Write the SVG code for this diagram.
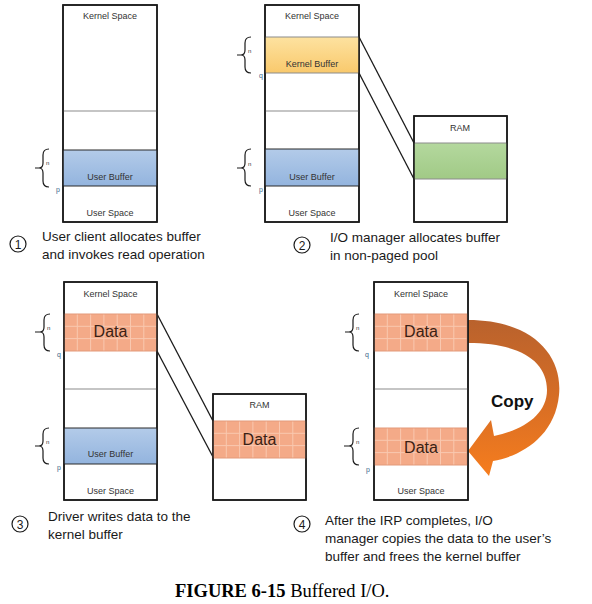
<svg xmlns="http://www.w3.org/2000/svg" width="592" height="604" viewBox="0 0 592 604">
<defs>
<style>
.box{fill:#fff;stroke:#1a1a1a;stroke-width:1.5}
.frame{fill:none;stroke:#1a1a1a;stroke-width:1.5}
.div{stroke:#8c8c8c;stroke-width:1.2}
.bandline{stroke:#2a2a2a;stroke-width:1.2}
.lbl{font-family:"Liberation Sans",Arial,sans-serif;font-size:9px;fill:#333;text-anchor:middle}
.data{font-family:"Liberation Sans",Arial,sans-serif;font-size:16px;fill:#3a1f14;text-anchor:middle}
.desc{font-family:"Liberation Sans",Arial,sans-serif;font-size:13.5px;fill:#1a1a1a}
.num{font-family:"Liberation Sans",Arial,sans-serif;font-size:12px;fill:#1a1a1a;text-anchor:middle}
.circ{fill:#fff;stroke:#1a1a1a;stroke-width:1.2}
.brace{fill:none;stroke:#1a1a1a;stroke-width:1.2}
.sub{font-family:"Liberation Sans",Arial,sans-serif;font-size:6px;fill:#333}
.pq{font-family:"Liberation Sans",Arial,sans-serif;font-size:7px;fill:#3b5f8a}
.conn{stroke:#1a1a1a;stroke-width:1.3;fill:none}
.copy{font-family:"Liberation Sans",Arial,sans-serif;font-size:17px;font-weight:bold;fill:#111}
.cap{font-family:"Liberation Serif","Times New Roman",serif;font-size:18.5px;fill:#000}
.gridl{stroke:#f9c8b0;stroke-width:1}
</style>
<linearGradient id="blue" x1="0" y1="0" x2="0" y2="1"><stop offset="0" stop-color="#b3cbe9"/><stop offset="1" stop-color="#93b4de"/></linearGradient>
<linearGradient id="yellow" x1="0" y1="0" x2="0" y2="1"><stop offset="0" stop-color="#fde2a0"/><stop offset="1" stop-color="#f9c96c"/></linearGradient>
<linearGradient id="green" x1="0" y1="0" x2="0" y2="1"><stop offset="0" stop-color="#b4d89e"/><stop offset="1" stop-color="#a1ca86"/></linearGradient>
<linearGradient id="copyg" gradientUnits="userSpaceOnUse" x1="0" y1="320" x2="0" y2="476"><stop offset="0" stop-color="#b9622d"/><stop offset="0.5" stop-color="#d66d25"/><stop offset="1" stop-color="#f67d1e"/></linearGradient>
<g id="grid">
<rect x="0" y="0" width="93" height="37" fill="#f4aa88"/>
<path class="gridl" d="M13.3,0V37M26.6,0V37M39.9,0V37M53.2,0V37M66.5,0V37M79.8,0V37M0,12.3H93M0,24.6H93"/>
<rect x="0" y="0" width="93" height="37" fill="none" stroke="#e39a7b" stroke-width="1"/>
</g>
</defs>
<rect width="592" height="604" fill="#fff"/>

<g id="connectors">
<line class="conn" x1="359" y1="37" x2="414" y2="143"/>
<line class="conn" x1="359" y1="73" x2="414" y2="179"/>
<line class="conn" x1="157" y1="314" x2="213" y2="421"/>
<line class="conn" x1="157" y1="351" x2="213" y2="457"/>
<path id="copy-arrow" d="M468,320 C532,320 563,355 559,395 C555,436 522,456 493,461 L489,476 L468,451 L491,420 L494,436 C524,430 547,414 547,390 C547,361 520,343 468,343 Z" fill="url(#copyg)"/>
</g>

<g id="p1-memory">
<rect class="box" x="63" y="5" width="94" height="217"/>
<line class="div" x1="63" y1="111" x2="157" y2="111"/>
<rect x="63" y="150" width="94" height="36" fill="url(#blue)"/>
<line class="bandline" x1="63" y1="150" x2="157" y2="150"/>
<line class="bandline" x1="63" y1="186" x2="157" y2="186"/>
<rect class="frame" x="63" y="5" width="94" height="217"/>
<text class="lbl" x="110" y="19">Kernel Space</text>
<text class="lbl" x="110" y="180">User Buffer</text>
<text class="lbl" x="110" y="216">User Space</text>
</g>
<g id="p1-brace">
<path class="brace" d="M49,149 Q43,149 43,155 V163 Q43,168 39,168 Q43,168 43,173 V181 Q43,187 49,187 M35,168 H40"/>
<text class="sub" x="46" y="165">n</text>
<text class="pq" x="56" y="192">p</text>
</g>
<g id="p1-caption">
<circle class="circ" cx="18" cy="244" r="8"/>
<text class="num" x="18" y="248.5">1</text>
<text class="desc" x="42" y="241">User client allocates buffer</text>
<text class="desc" x="42" y="259">and invokes read operation</text>
</g>

<g id="p2-memory">
<rect class="box" x="265" y="5" width="94" height="217"/>
<rect x="265" y="37" width="94" height="36" fill="url(#yellow)"/>
<line class="div" x1="265" y1="37" x2="359" y2="37"/>
<line class="div" x1="265" y1="73" x2="359" y2="73"/>
<line class="div" x1="265" y1="111" x2="359" y2="111"/>
<rect x="265" y="149" width="94" height="37" fill="url(#blue)"/>
<line class="bandline" x1="265" y1="149" x2="359" y2="149"/>
<line class="bandline" x1="265" y1="186" x2="359" y2="186"/>
<rect class="frame" x="265" y="5" width="94" height="217"/>
<text class="lbl" x="312" y="19">Kernel Space</text>
<text class="lbl" x="312" y="67">Kernel Buffer</text>
<text class="lbl" x="312" y="180">User Buffer</text>
<text class="lbl" x="312" y="216">User Space</text>
</g>
<g id="p2-braces">
<path class="brace" d="M251,37 Q245,37 245,43 V50 Q245,55 241,55 Q245,55 245,60 V67 Q245,73 251,73 M237,55 H242"/>
<text class="sub" x="248" y="53">n</text>
<text class="pq" x="259" y="78">q</text>
<path class="brace" d="M251,149 Q245,149 245,155 V163 Q245,168 241,168 Q245,168 245,173 V180 Q245,186 251,186 M237,168 H242"/>
<text class="sub" x="248" y="166">n</text>
<text class="pq" x="259" y="192">p</text>
</g>
<g id="p2-ram">
<rect class="box" x="414" y="116" width="93" height="106"/>
<rect x="414" y="143" width="93" height="36" fill="url(#green)"/>
<line class="div" x1="414" y1="143" x2="507" y2="143"/>
<line class="div" x1="414" y1="179" x2="507" y2="179"/>
<rect class="frame" x="414" y="116" width="93" height="106"/>
<text class="lbl" x="460" y="131">RAM</text>
</g>
<g id="p2-caption">
<circle class="circ" cx="302" cy="245" r="8"/>
<text class="num" x="302" y="249.5">2</text>
<text class="desc" x="330" y="242">I/O manager allocates buffer</text>
<text class="desc" x="330" y="260">in non-paged pool</text>
</g>

<g id="p3-memory">
<rect class="box" x="64" y="282" width="93" height="218"/>
<line class="div" x1="64" y1="389" x2="157" y2="389"/>
<use href="#grid" x="64" y="314"/>
<rect x="64" y="428" width="93" height="36" fill="url(#blue)"/>
<line class="bandline" x1="64" y1="428" x2="157" y2="428"/>
<line class="bandline" x1="64" y1="464" x2="157" y2="464"/>
<rect class="frame" x="64" y="282" width="93" height="218"/>
<text class="lbl" x="110.5" y="297">Kernel Space</text>
<text class="data" x="110.5" y="337">Data</text>
<text class="lbl" x="110.5" y="457">User Buffer</text>
<text class="lbl" x="110.5" y="494">User Space</text>
</g>
<g id="p3-braces">
<path class="brace" d="M50,314 Q44,314 44,320 V327 Q44,332 40,332 Q44,332 44,337 V345 Q44,351 50,351 M35,332 H41"/>
<text class="sub" x="47" y="330">n</text>
<text class="pq" x="57" y="357">q</text>
<path class="brace" d="M49,428 Q43,428 43,434 V441 Q43,446 39,446 Q43,446 43,451 V458 Q43,464 49,464 M35,446 H40"/>
<text class="sub" x="46" y="444">n</text>
<text class="pq" x="57" y="470">p</text>
</g>
<g id="p3-ram">
<rect class="box" x="213" y="394" width="93" height="106"/>
<use href="#grid" x="213" y="421"/>
<rect class="frame" x="213" y="394" width="93" height="106"/>
<text class="lbl" x="259.5" y="408">RAM</text>
<text class="data" x="259.5" y="445">Data</text>
</g>
<g id="p3-caption">
<circle class="circ" cx="20" cy="524" r="8"/>
<text class="num" x="20" y="528.5">3</text>
<text class="desc" x="48" y="521">Driver writes data to the</text>
<text class="desc" x="48" y="539">kernel buffer</text>
</g>

<g id="p4-memory">
<rect class="box" x="374" y="282" width="94" height="218"/>
<line class="div" x1="374" y1="389" x2="468" y2="389"/>
<use href="#grid" x="374" y="314"/>
<use href="#grid" x="374" y="428"/>
<rect class="frame" x="374" y="282" width="94" height="218"/>
<text class="lbl" x="421" y="297">Kernel Space</text>
<text class="data" x="421" y="337">Data</text>
<text class="data" x="421" y="453">Data</text>
<text class="lbl" x="421" y="494">User Space</text>
</g>
<g id="p4-braces">
<path class="brace" d="M359,314 Q353,314 353,320 V327 Q353,332 349,332 Q353,332 353,337 V345 Q353,351 359,351 M345,332 H350"/>
<text class="sub" x="356" y="330">n</text>
<text class="pq" x="365" y="357">q</text>
<path class="brace" d="M359,428 Q353,428 353,434 V441 Q353,446 349,446 Q353,446 353,451 V459 Q353,465 359,465 M344,446 H350"/>
<text class="sub" x="356" y="444">n</text>
<text class="pq" x="366" y="472">p</text>
</g>
<g id="copy-label">
<text class="copy" x="491" y="407">Copy</text>
</g>
<g id="p4-caption">
<circle class="circ" cx="302" cy="524" r="8"/>
<text class="num" x="302" y="528.5">4</text>
<text class="desc" x="325" y="525">After the IRP completes, I/O</text>
<text class="desc" x="325" y="543">manager copies the data to the user’s</text>
<text class="desc" x="325" y="561">buffer and frees the kernel buffer</text>
</g>

<g id="figure-caption">
<text class="cap" x="175" y="597"><tspan font-weight="bold">FIGURE 6-15</tspan> Buffered I/O.</text>
</g>
</svg>
